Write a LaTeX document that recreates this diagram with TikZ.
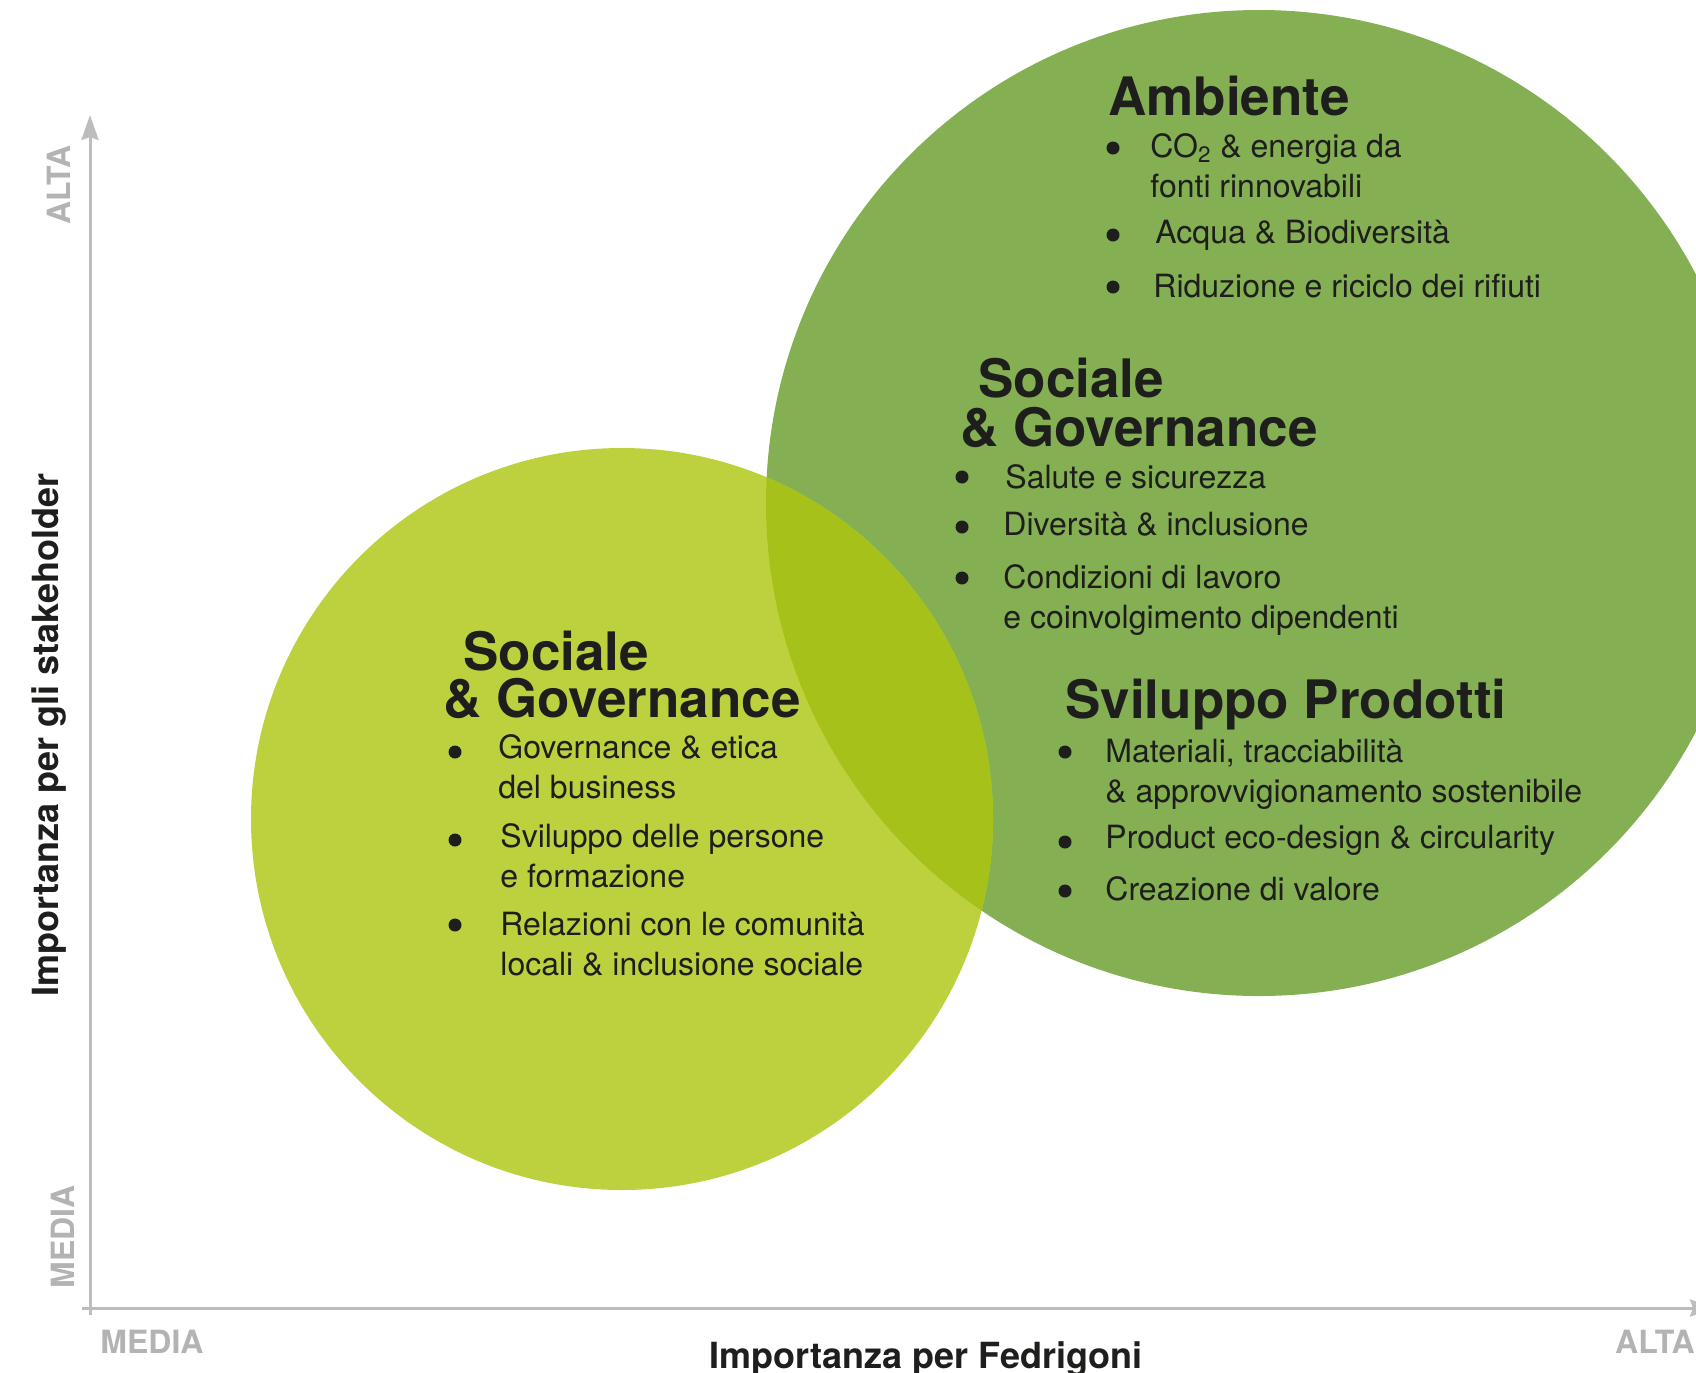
\documentclass[tikz,border=0pt]{standalone}
\usepackage{fontspec}
\setmainfont{TeX Gyre Heros}
\usepackage{xcolor}
\usepackage{tikz}
\usetikzlibrary{arrows.meta, positioning}
\definecolor{verde}{HTML}{84AF52}
\definecolor{lime}{HTML}{BDD13F}
\definecolor{limescuro}{HTML}{A6C119}
\definecolor{grigioasse}{HTML}{BDBDBD}
\definecolor{grigio}{HTML}{B3B3B3}
\definecolor{inchiostro}{HTML}{1E1E1C}
% voce su piu righe, con la base sulla prima riga
\newcommand{\righe}[1]{\begin{tabular}[t]{@{}l@{}}#1\end{tabular}}
\tikzset{
  titolo/.style={anchor=base west, inner sep=0pt, text=inchiostro,
    font=\fontsize{26.5}{30}\selectfont\bfseries},
  voce/.style={anchor=base west, inner sep=0pt, text=inchiostro,
    font=\fontsize{16}{20}\selectfont},
  punto/.style={circle, fill=inchiostro, inner sep=0pt, minimum size=6.5pt},
  asse/.style={line width=1.5pt, draw=grigioasse,
    -{Stealth[length=12.5pt, width=8.5pt, inset=1.5pt]}},
  estremo/.style={inner sep=0pt, text=grigio, font=\fontsize{16}{16}\selectfont\bfseries},
  titoloasse/.style={inner sep=0pt, text=inchiostro, font=\fontsize{18}{18}\selectfont\bfseries}
}

\begin{document}
\begin{tikzpicture}[x=0.5pt, y=-0.5pt]
    \clip (0,0) rectangle (1696,1372);

    % i due cerchi e la zona comune
    \coordinate (cVerde) at (1259,503);
    \coordinate (cLime) at (622,819);
    \fill[verde] (cVerde) circle[radius=246.5pt];
    \fill[lime] (cLime) circle[radius=185.5pt];
    \begin{scope}
      \clip (cVerde) circle[radius=246.5pt];
      \fill[limescuro] (cLime) circle[radius=185.5pt];
    \end{scope}

    % assi
    \coordinate (yBase) at (90,1315);
    \coordinate (yCima) at (90,115);
    \coordinate (xBase) at (82,1308);
    \coordinate (xFine) at (1715,1308);
    \draw[asse] (yBase) -- (yCima);
    \draw[asse] (xBase) -- (xFine);

    \node[estremo, rotate=90] (yAlta) at (58.5,185) {ALTA};
    \node[estremo, rotate=90] (yMedia) at (63,1237) {MEDIA};
    \node[estremo] (xMedia) at (152,1341.5) {MEDIA};
    \node[estremo] (xAlta) at (1655,1341.5) {ALTA};
    \node[titoloasse, anchor=base] (xTitolo) at (926,1368) {Importanza per Fedrigoni};
    \node[titoloasse, anchor=base, rotate=90] (yTitolo) at (58,735) {Importanza per gli stakeholder};

    % Ambiente
    \node[titolo] (amb) at (1108,115) {Ambiente};
    \node[punto] (ambP1) at (1113,148) {};
    \node[voce] (amb1) at (1150,157) {\righe{CO\textsubscript{2} \& energia da\\fonti rinnovabili}};
    \node[punto] (ambP2) at (1113,235) {};
    \node[voce] (amb2) at (1155,243) {Acqua \& Biodiversità};
    \node[punto] (ambP3) at (1113,287) {};
    \node[voce] (amb3) at (1153,297) {Riduzione e riciclo dei rifiuti};

    % Sociale & Governance (cerchio grande)
    \node[titolo] (sgA1) at (978,397) {Sociale};
    \node[titolo] (sgA2) at (960,446) {\& Governance};
    \node[punto] (sgAP1) at (962,477) {};
    \node[voce] (sgA3) at (1005,488) {Salute e sicurezza};
    \node[punto] (sgAP2) at (962,527) {};
    \node[voce] (sgA4) at (1003,535) {Diversità \& inclusione};
    \node[punto] (sgAP3) at (962,578) {};
    \node[voce] (sgA5) at (1003,588) {\righe{Condizioni di lavoro\\e coinvolgimento dipendenti}};

    % Sociale & Governance (cerchio piccolo)
    \node[titolo] (sgB1) at (463,670) {Sociale};
    \node[titolo] (sgB2) at (443,717) {\& Governance};
    \node[punto] (sgBP1) at (455,752) {};
    \node[voce] (sgB3) at (498,758) {\righe{Governance \& etica\\del business}};
    \node[punto] (sgBP2) at (455,840) {};
    \node[voce] (sgB4) at (500,847) {\righe{Sviluppo delle persone\\e formazione}};
    \node[punto] (sgBP3) at (455,925) {};
    \node[voce] (sgB5) at (500,935) {\righe{Relazioni con le comunità\\locali \& inclusione sociale}};

    % Sviluppo Prodotti
    \node[titolo] (svp) at (1065,718) {Sviluppo Prodotti};
    \node[punto] (svpP1) at (1065,752) {};
    \node[voce] (svp1) at (1105,762) {\righe{Materiali, tracciabilità\\\& approvvigionamento sostenibile}};
    \node[punto] (svpP2) at (1065,842) {};
    \node[voce] (svp2) at (1105,848) {Product eco-design \& circularity};
    \node[punto] (svpP3) at (1065,891) {};
    \node[voce] (svp3) at (1105,900) {Creazione di valore};
\end{tikzpicture}
\end{document}
